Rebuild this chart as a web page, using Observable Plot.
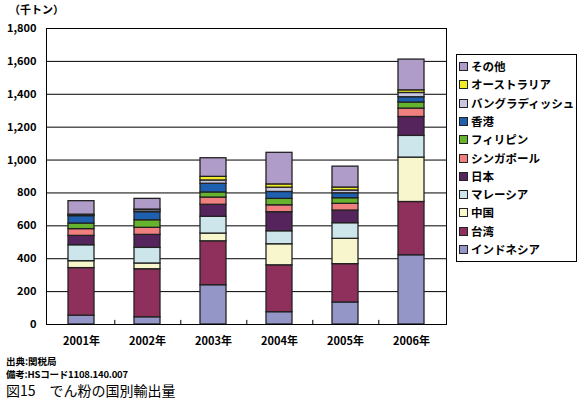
<!DOCTYPE html>
<html><head><meta charset="utf-8">
<script src="https://cdn.jsdelivr.net/npm/d3@7"></script>
<script src="https://cdn.jsdelivr.net/npm/@observablehq/plot@0.6"></script>
<style>
body{margin:0;background:#fff;font-family:"Noto Sans CJK JP","Noto Sans",sans-serif;}
#wrap{position:relative;width:587px;height:399px;overflow:hidden;}
#chart{position:absolute;left:0;top:0;}
.unit{position:absolute;left:9px;top:2px;font-size:11px;font-weight:bold;line-height:14px;}
#legend{position:absolute;left:456px;top:54px;width:121px;height:208px;border:1px solid #000;box-sizing:border-box;}
.li{position:absolute;left:2px;height:16px;line-height:16px;font-size:11.5px;font-weight:bold;white-space:nowrap;}
.sw{display:inline-block;width:7px;height:7px;border:1px solid #222;margin-right:3px;vertical-align:0px;}
.foot{position:absolute;left:6px;white-space:nowrap;}
</style></head>
<body><div id="wrap">
<div class="unit">（千トン）</div>
<div id="chart"></div>
<div id="legend"></div>
<div class="foot" style="top:355px;font-size:9.5px;line-height:12px;font-weight:bold;">出典:関税局</div>
<div class="foot" style="top:368px;font-size:9.5px;line-height:12px;font-weight:bold;letter-spacing:-0.2px;">備考:HSコード1108.140.007</div>
<div class="foot" style="top:382px;font-size:14px;line-height:16px;">図15　でん粉の国別輸出量</div>
</div>
<script>
const years = ["2001年","2002年","2003年","2004年","2005年","2006年"];
const countries = ["インドネシア","台湾","中国","マレーシア","日本","シンガポール","フィリピン","香港","バングラディッシュ","オーストラリア","その他"];
const colors = ["#9596c8","#8f2f5c","#f8f6cc","#cde6ec","#55245c","#f08080","#66b32e","#1f5fb0","#c9c6e2","#f0ec28","#b09cc8"];
const indonesia   = [54,44,239,75,134,421];
const taiwan      = [289,292,267,285,233,324];
const china       = [42,35,47,128,154,270];
const malaysia    = [97,95,102,79,95,132];
const japan       = [57,79,73,116,77,115];
const singapore   = [41,43,44,42,41,51];
const philippines = [34,46,31,39,34,37];
const hongkong    = [45,49,53,42,30,32];
const bangladesh  = [5,12,20,26,17,26];
const australia   = [4,4,22,20,18,16];
const others      = [82,65,113,192,127,187];
const yTicks = [0,200,400,600,800,1000,1200,1400,1600,1800];

const series = [indonesia,taiwan,china,malaysia,japan,singapore,philippines,hongkong,bangladesh,australia,others];
const data = [];
years.forEach((y,i)=>{ countries.forEach((c,j)=>{ data.push({year:y,country:c,value:series[j][i]}); }); });

const plot = Plot.plot({
  width: 450, height: 352,
  marginLeft: 46, marginRight: 4, marginTop: 28, marginBottom: 28,
  style:{fontFamily:'"Noto Sans CJK JP",sans-serif',fontSize:"11px",fontWeight:"bold",color:"#000"},
  x:{domain:years,paddingInner:0.6,paddingOuter:0.3,label:null},
  y:{domain:[0,1800],label:null},
  color:{domain:countries,range:colors},
  marks:[
    Plot.ruleY(yTicks,{stroke:"#000",strokeWidth:1}),
    Plot.barY(data,{x:"year",y:"value",fill:"country",stroke:"#222",strokeWidth:1.3,order:countries}),
    Plot.ruleX(years.slice(0,5),{x:d=>d,y1:0,y2:25,dx:33.3,stroke:"#000"}),
    Plot.frame({stroke:"#000"}),
    Plot.axisY({ticks:yTicks,tickFormat:d3.format(","),tickSize:0,tickPadding:10,label:null}),
    Plot.axisX({tickSize:0,tickPadding:13,label:null})
  ]
});
document.getElementById("chart").appendChild(plot);

const lg = document.getElementById("legend");
countries.slice().reverse().forEach((c,k)=>{
  const col = colors[countries.indexOf(c)];
  const d = document.createElement("div");
  d.className="li";
  d.style.top = (3 + k*18.3) + "px";
  d.innerHTML = `<span class="sw" style="background:${col}"></span>${c}`;
  lg.appendChild(d);
});
</script>
</body></html>
